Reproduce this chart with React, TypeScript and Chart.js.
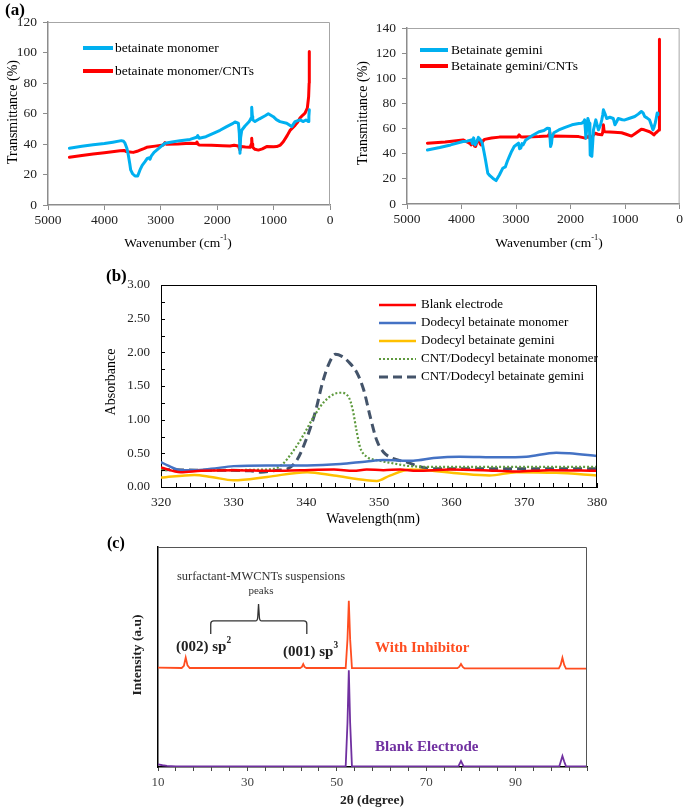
import React, { useEffect, useRef } from "react";
import { Chart, registerables } from "chart.js";
Chart.register(...registerables);

const SERIF = '"Liberation Serif", "Times New Roman", serif';

// ---------- Panel (a) left: betainate monomer FTIR ----------
const monoWn = [4620, 4400, 4200, 4000, 3850, 3700, 3660, 3635, 3600, 3576, 3550, 3534, 3500, 3457, 3410, 3369, 3330, 3280, 3240, 3200, 3191, 3170, 3120, 3073, 3000, 2926, 2800, 2660, 2482, 2364, 2345, 2320, 2200, 2069, 1950, 1832, 1720, 1684, 1650, 1624, 1608, 1596, 1585, 1565, 1507, 1432, 1400, 1388, 1376, 1370, 1330, 1250, 1150, 1094, 1005, 950, 887, 768, 679, 620, 532, 473, 426, 385, 375, 367];
const monoT = [37.2, 38.5, 39.5, 40.3, 41.2, 42.2, 41.8, 40.5, 37, 32.8, 27, 23, 20.5, 19, 19, 23, 26, 28.4, 30.5, 31, 30, 32, 34.5, 36, 38.3, 40.5, 41.3, 42.2, 43, 44.4, 45.5, 43.8, 44.8, 47, 49, 51.4, 53.5, 54.5, 54, 53.5, 47, 33.9, 44, 49, 51.8, 54.7, 57, 64.1, 58, 55.8, 54.7, 56.5, 58.5, 59.8, 57.9, 56, 54.7, 53.6, 51.4, 54.7, 55.8, 54.7, 55.8, 54.7, 58, 62.4];
const monoCntWn = [4620, 4400, 4200, 4000, 3723, 3650, 3610, 3550, 3488, 3420, 3369, 3300, 3250, 3100, 2956, 2926, 2900, 2700, 2482, 2380, 2360, 2340, 2320, 2100, 1900, 1773, 1700, 1625, 1596, 1580, 1500, 1418, 1395, 1388, 1380, 1370, 1330, 1270, 1200, 1123, 1000, 945, 880, 828, 760, 709, 620, 580, 532, 480, 443, 402, 379, 370, 367];
const monoCntT = [31.3, 32.5, 33.5, 34.3, 35.6, 35.8, 35, 34.8, 34.5, 35.2, 36, 37, 37.8, 38.6, 39.4, 40.9, 39.8, 40, 40.5, 40.3, 41.3, 39.8, 39.4, 39.2, 38.9, 38.7, 39.2, 38.7, 36, 38.3, 38, 37.8, 40, 43.7, 40, 37.8, 36.5, 36, 36.8, 38.3, 38.2, 38.3, 39.3, 41.5, 45.5, 48.9, 52.2, 54, 57, 59, 60.2, 63.5, 71, 80, 100.6];

// ---------- Panel (a) right: betainate gemini FTIR ----------
const gemWn = [4626, 4400, 4200, 3972, 3900, 3820, 3800, 3778, 3750, 3717, 3690, 3670, 3640, 3620, 3590, 3560, 3518, 3480, 3427, 3366, 3306, 3245, 3197, 3160, 3124, 3080, 3034, 2955, 2935, 2913, 2890, 2870, 2822, 2700, 2579, 2489, 2428, 2386, 2367, 2350, 2337, 2307, 2216, 2100, 1974, 1850, 1792, 1760, 1743, 1730, 1719, 1700, 1683, 1658, 1645, 1640, 1610, 1595, 1580, 1537, 1489, 1450, 1428, 1410, 1398, 1370, 1338, 1280, 1216, 1186, 1160, 1126, 1050, 1005, 930, 823, 760, 702, 670, 641, 600, 551, 520, 490, 470, 448, 430, 411, 400];
const gemT = [43, 45, 47, 49.7, 50, 51, 48, 52.6, 47, 49.7, 53, 52, 50, 48.4, 42, 35, 24.5, 22.5, 20.5, 18.6, 23.1, 28.4, 29.5, 34, 37.7, 42, 45.7, 48.4, 44, 44.4, 48, 47, 51, 54.5, 57.5, 58.4, 60.3, 60, 45.7, 48, 53.6, 56.7, 58.9, 61, 63, 64, 64.3, 65.5, 66.9, 60, 52.4, 62, 68, 64.3, 50, 39, 38, 48, 59, 66.9, 59, 63, 66.9, 71, 74.9, 72, 68, 69, 68, 63, 65, 68, 67, 66.9, 68, 69.6, 71.5, 73.6, 72.5, 69.6, 68.5, 66.9, 63, 59, 61, 64.3, 68, 72.3, 71];
const gemCntWn = [4626, 4300, 3972, 3930, 3881, 3840, 3820, 3800, 3778, 3760, 3742, 3720, 3700, 3681, 3660, 3639, 3610, 3578, 3450, 3306, 3100, 2973, 2943, 2915, 2883, 2700, 2579, 2420, 2397, 2380, 2367, 2350, 2337, 2100, 1852, 1731, 1700, 1671, 1640, 1610, 1580, 1549, 1500, 1428, 1410, 1398, 1385, 1368, 1200, 1065, 980, 883, 800, 702, 650, 551, 500, 472, 440, 411, 375, 370];
const gemCntT = [48.4, 49.3, 51, 50, 49, 48, 47, 50, 49.7, 46, 45.7, 49, 51, 51, 48, 47, 50, 51.4, 52.5, 53.2, 53.2, 53.2, 55, 53.5, 53.2, 53.5, 53.6, 54, 55, 57, 50.5, 52, 54, 53.8, 53.6, 52.4, 53, 54, 52, 53, 55, 56.3, 55.5, 55, 57, 63, 58, 57.5, 57, 56.7, 55.5, 54, 56.5, 59.5, 59, 57.5, 56, 55, 56.5, 57.5, 58.9, 131];

// ---------- Panel (b): UV-Vis absorbance ----------
const blankNm = [320, 322.7, 325.5, 330, 335.5, 339.2, 343.8, 346.5, 348.3, 350.6, 352.9, 355.2, 359.8, 364.3, 368.9, 373.5, 380];
const blankAbs = [0.29, 0.22, 0.24, 0.25, 0.24, 0.25, 0.26, 0.24, 0.26, 0.25, 0.26, 0.24, 0.26, 0.25, 0.23, 0.25, 0.24];
const monoNm = [320, 320.9, 322.7, 324.6, 326.9, 330, 334.6, 340.1, 344.7, 348.3, 350.6, 354.7, 357.5, 361.1, 366.6, 370.3, 374.4, 376.2, 380];
const monoAbs = [0.37, 0.32, 0.25, 0.25, 0.27, 0.31, 0.32, 0.32, 0.34, 0.38, 0.4, 0.39, 0.43, 0.45, 0.44, 0.45, 0.51, 0.5, 0.46];
const gemNm = [320, 324.6, 326.9, 330, 334.6, 340.1, 343.8, 348.3, 349.7, 351.5, 354.3, 356.6, 361.1, 365.2, 368.9, 374.4, 380];
const gemAbs = [0.14, 0.18, 0.15, 0.1, 0.15, 0.22, 0.17, 0.1, 0.09, 0.17, 0.26, 0.25, 0.2, 0.17, 0.22, 0.21, 0.17];
const cntMonoNm = [320, 325.5, 334.6, 336.5, 338.3, 339.7, 341, 342.4, 343.8, 344.7, 345.8, 346.4, 346.9, 347.4, 348.3, 349.7, 351.5, 354.3, 357.5, 380];
const cntMonoAbs = [0.25, 0.25, 0.26, 0.32, 0.55, 0.79, 1.04, 1.26, 1.38, 1.4, 1.34, 1.14, 0.84, 0.59, 0.45, 0.4, 0.36, 0.31, 0.3, 0.3];
const cntGemNm = [320, 325.5, 332.3, 333.7, 336, 337.4, 338.7, 340.1, 341.3, 342.2, 343.1, 344, 344.9, 345.8, 347, 347.9, 348.8, 349.7, 350.6, 352, 353.8, 355.6, 357.5, 380];
const cntGemAbs = [0.26, 0.25, 0.24, 0.22, 0.25, 0.27, 0.4, 0.74, 1.14, 1.54, 1.83, 1.97, 1.94, 1.86, 1.69, 1.44, 1.04, 0.69, 0.52, 0.42, 0.37, 0.3, 0.27, 0.27];
const uvLabels = ["Blank electrode", "Dodecyl betainate monomer", "Dodecyl betainate gemini", "CNT/Dodecyl betainate monomer", "CNT/Dodecyl betainate gemini"];

// ---------- Panel (c): XRD ----------
const inhDeg = [10, 15.3, 15.8, 16.2, 16.6, 17.1, 41.8, 42.2, 42.5, 42.8, 43.2, 52.0, 52.4, 52.7, 53.0, 53.4, 77.0, 77.4, 77.8, 78.2, 78.6, 99.7, 100.1, 100.5, 100.9, 101.3, 106];
const inhInt = [45.2, 45.0, 46.0, 49.7, 46.2, 45.0, 45.0, 45.5, 46.8, 45.5, 45.0, 45.0, 58, 75.6, 58, 45.0, 44.9, 45.5, 46.8, 45.5, 44.8, 44.8, 46.4, 49.7, 46.4, 44.7, 44.7];
const blkDeg = [10, 11, 12, 14, 52.0, 52.4, 52.7, 53.0, 53.4, 77.2, 77.8, 78.4, 99.8, 100.2, 100.5, 100.9, 101.3, 106];
const blkInt = [1.2, 0.8, 0.5, 0.3, 0.3, 20, 44, 20, 0.3, 0.3, 2.7, 0.3, 0.3, 3.0, 5.0, 2.5, 0.3, 0.3];
const braceDeg = [21.8, 32.5, 43.3];
const braceInt = [60.5, 66.4, 74.1];

const pts = (xs: number[], ys: number[]) => xs.map((x, i) => ({ x, y: ys[i] }));

type Part = { t: string; sup?: boolean };
type Txt = { x: number; y: number; parts: Part[]; size: number; bold?: boolean; color?: string; align?: "left" | "center" | "right"; rot?: number };
type Leg = { x1: number; x2: number; tx: number; y: number; color: string; width: number; dash?: number[]; label: string; size: number };
type Marks = { axis: "x" | "y"; values: number[]; len: number; color: string };
type Deco = { frame?: { color: string; width: number }; texts?: Txt[]; legend?: Leg[]; marks?: Marks[]; brace?: { xs: number[]; ys: number[]; color: string } };

function drawTxt(ctx: CanvasRenderingContext2D, it: Txt) {
  const w = it.bold ? "bold " : "";
  const supSize = it.size * 0.62;
  const widths = it.parts.map((p) => {
    ctx.font = `${w}${p.sup ? supSize : it.size}px ${SERIF}`;
    return ctx.measureText(p.t).width;
  });
  const total = widths.reduce((a, b) => a + b, 0);
  ctx.save();
  ctx.translate(it.x, it.y);
  if (it.rot) ctx.rotate(it.rot);
  let x = it.align === "center" ? -total / 2 : it.align === "right" ? -total : 0;
  ctx.fillStyle = it.color || "#000";
  ctx.textBaseline = "middle";
  ctx.textAlign = "left";
  it.parts.forEach((p, i) => {
    ctx.font = `${w}${p.sup ? supSize : it.size}px ${SERIF}`;
    ctx.fillText(p.t, x, p.sup ? -it.size * 0.4 : 0);
    x += widths[i];
  });
  ctx.restore();
}

function deco(cfg: Deco) {
  return {
    id: "deco",
    afterDraw(chart: any) {
      const ctx = chart.ctx as CanvasRenderingContext2D;
      const a = chart.chartArea;
      ctx.save();
      if (cfg.frame) {
        ctx.strokeStyle = cfg.frame.color;
        ctx.lineWidth = cfg.frame.width;
        ctx.beginPath();
        ctx.moveTo(a.left, a.top + 0.5);
        ctx.lineTo(a.right - 0.5, a.top + 0.5);
        ctx.lineTo(a.right - 0.5, a.bottom);
        ctx.stroke();
      }
      (cfg.marks || []).forEach((m) => {
        const sc = chart.scales[m.axis];
        ctx.strokeStyle = m.color;
        ctx.lineWidth = 1;
        ctx.beginPath();
        m.values.forEach((v) => {
          const p = Math.round(sc.getPixelForValue(v)) + 0.5;
          if (m.axis === "x") {
            ctx.moveTo(p, a.bottom);
            ctx.lineTo(p, a.bottom - m.len);
          } else {
            ctx.moveTo(a.left, p);
            ctx.lineTo(a.left + m.len, p);
          }
        });
        ctx.stroke();
      });
      if (cfg.brace) {
        const sx = chart.scales.x, sy = chart.scales.y;
        const [x0, xc, x1] = cfg.brace.xs.map((v) => sx.getPixelForValue(v));
        const [yl, ym, yt] = cfg.brace.ys.map((v) => sy.getPixelForValue(v));
        ctx.strokeStyle = cfg.brace.color;
        ctx.lineWidth = 1.3;
        ctx.beginPath();
        ctx.moveTo(x0, yl);
        ctx.lineTo(x0, ym + 3);
        ctx.quadraticCurveTo(x0, ym, x0 + 3, ym);
        ctx.lineTo(xc - 3, ym);
        ctx.quadraticCurveTo(xc - 1, ym, xc - 0.8, ym - 4);
        ctx.lineTo(xc, yt);
        ctx.lineTo(xc + 0.8, ym - 4);
        ctx.quadraticCurveTo(xc + 1, ym, xc + 3, ym);
        ctx.lineTo(x1 - 3, ym);
        ctx.quadraticCurveTo(x1, ym, x1, ym + 3);
        ctx.lineTo(x1, yl);
        ctx.stroke();
      }
      (cfg.legend || []).forEach((l) => {
        ctx.save();
        ctx.strokeStyle = l.color;
        ctx.lineWidth = l.width;
        ctx.setLineDash(l.dash || []);
        ctx.beginPath();
        ctx.moveTo(l.x1, l.y);
        ctx.lineTo(l.x2, l.y);
        ctx.stroke();
        ctx.restore();
        drawTxt(ctx, { x: l.tx, y: l.y, parts: [{ t: l.label }], size: l.size, color: "#000" });
      });
      (cfg.texts || []).forEach((t) => drawTxt(ctx, t));
      ctx.restore();
    },
  };
}

function ChartBox(props: { left: number; top: number; width: number; height: number; make: () => any }) {
  const ref = useRef<HTMLCanvasElement>(null);
  useEffect(() => {
    const c = new Chart(ref.current as HTMLCanvasElement, props.make());
    return () => c.destroy();
  }, []);
  return (
    <canvas
      ref={ref}
      width={props.width}
      height={props.height}
      style={{ position: "absolute", left: props.left, top: props.top, width: props.width, height: props.height }}
    />
  );
}

const GRAY = "#8c8c8c";

function ftirConfig(opts: {
  series: { data: { x: number; y: number }[]; color: string; label: string }[];
  yMax: number; padTop: number; padRight: number; yWidth: number; xHeight: number; deco: Deco;
}) {
  return {
    type: "line",
    data: {
      datasets: opts.series.map((s) => ({
        label: s.label, data: s.data, borderColor: s.color, backgroundColor: s.color,
        borderWidth: 3, pointRadius: 0, tension: 0, borderJoinStyle: "round", borderCapStyle: "round",
      })),
    },
    options: {
      animation: false, responsive: false, devicePixelRatio: 1,
      layout: { padding: { left: 0, top: opts.padTop, right: opts.padRight, bottom: 0 } },
      plugins: { legend: { display: false }, tooltip: { enabled: false } },
      scales: {
        x: {
          type: "linear", reverse: true, min: 0, max: 5000,
          afterFit: (s: any) => { s.height = opts.xHeight; },
          ticks: { stepSize: 1000, autoSkip: false, maxRotation: 0, padding: 2, color: "#222", font: { family: SERIF, size: 13.5 }, callback: (v: any) => String(v) },
          grid: { display: true, drawOnChartArea: false, drawTicks: true, tickLength: 5, color: GRAY },
          border: { display: true, color: GRAY, width: 1.5 },
        },
        y: {
          type: "linear", min: 0, max: opts.yMax,
          afterFit: (s: any) => { s.width = opts.yWidth; },
          ticks: { stepSize: 20, padding: 6, color: "#222", font: { family: SERIF, size: 13.5 }, callback: (v: any) => String(v) },
          grid: { display: true, drawOnChartArea: false, drawTicks: true, tickLength: 5, color: GRAY },
          border: { display: true, color: GRAY, width: 1.5 },
        },
      },
    },
    plugins: [deco(opts.deco)],
  };
}

const BLUE = "#00B0F0";
const RED = "#FF0000";

function makeA1() {
  return ftirConfig({
    series: [
      { data: pts(monoWn, monoT), color: BLUE, label: "betainate monomer" },
      { data: pts(monoCntWn, monoCntT), color: RED, label: "betainate monomer/CNTs" },
    ],
    yMax: 120, padTop: 22, padRight: 12, yWidth: 48, xHeight: 50,
    deco: {
      frame: { color: "#a6a6a6", width: 1 },
      legend: [
        { x1: 83, x2: 113, tx: 115, y: 48, color: BLUE, width: 4, label: "betainate monomer", size: 13.5 },
        { x1: 83, x2: 113, tx: 115, y: 71, color: RED, width: 4, label: "betainate monomer/CNTs", size: 13.5 },
      ],
      texts: [
        { x: 5, y: 11, parts: [{ t: "(a)" }], size: 17, bold: true },
        { x: 13, y: 112, parts: [{ t: "Transmittance (%)" }], size: 14, align: "center", rot: -Math.PI / 2 },
        { x: 178, y: 243, parts: [{ t: "Wavenumber (cm" }, { t: "-1", sup: true }, { t: ")" }], size: 13.5, align: "center" },
      ],
    },
  });
}

function makeA2() {
  return ftirConfig({
    series: [
      { data: pts(gemWn, gemT), color: BLUE, label: "Betainate gemini" },
      { data: pts(gemCntWn, gemCntT), color: RED, label: "Betainate gemini/CNTs" },
    ],
    yMax: 140, padTop: 28, padRight: 3, yWidth: 77, xHeight: 51,
    deco: {
      frame: { color: "#a6a6a6", width: 1 },
      legend: [
        { x1: 90, x2: 118, tx: 121, y: 50, color: BLUE, width: 4, label: "Betainate gemini", size: 13.5 },
        { x1: 90, x2: 118, tx: 121, y: 66, color: RED, width: 4, label: "Betainate gemini/CNTs", size: 13.5 },
      ],
      texts: [
        { x: 33, y: 113, parts: [{ t: "Transmittance (%)" }], size: 14, align: "center", rot: -Math.PI / 2 },
        { x: 219, y: 243, parts: [{ t: "Wavenumber (cm" }, { t: "-1", sup: true }, { t: ")" }], size: 13.5, align: "center" },
      ],
    },
  });
}

const UV_COLORS = ["#FF0000", "#4472C4", "#FFC000", "#5E9A3E", "#44546A"];
const UV_WIDTH = [2.5, 2.5, 2.5, 2.2, 3];
const UV_DASH: number[][] = [[], [], [], [2, 2], [9, 5]];

function makeB() {
  const series = [pts(blankNm, blankAbs), pts(monoNm, monoAbs), pts(gemNm, gemAbs), pts(cntMonoNm, cntMonoAbs), pts(cntGemNm, cntGemAbs)];
  const xMinor: number[] = [];
  for (let v = 320; v <= 380; v += 2) xMinor.push(v);
  const yMinor: number[] = [];
  for (let v = 0; v <= 3.001; v += 0.25) yMinor.push(v);
  const legY = [43, 61, 79, 97, 115];
  return {
    type: "line",
    data: {
      datasets: series.map((d, i) => ({
        label: uvLabels[i], data: d, borderColor: UV_COLORS[i], backgroundColor: UV_COLORS[i],
        borderWidth: UV_WIDTH[i], borderDash: UV_DASH[i], pointRadius: 0, cubicInterpolationMode: "monotone", tension: 0.4,
      })),
    },
    options: {
      animation: false, responsive: false, devicePixelRatio: 1,
      layout: { padding: { left: 0, top: 23, right: 88, bottom: 0 } },
      plugins: { legend: { display: false }, tooltip: { enabled: false } },
      scales: {
        x: {
          type: "linear", min: 320, max: 380,
          afterFit: (s: any) => { s.height = 43; },
          ticks: { stepSize: 10, autoSkip: false, maxRotation: 0, padding: 7, color: "#222", font: { family: SERIF, size: 13.5 }, callback: (v: any) => String(v) },
          grid: { display: false, drawTicks: false },
          border: { display: true, color: "#000", width: 1 },
        },
        y: {
          type: "linear", min: 0, max: 3,
          afterFit: (s: any) => { s.width = 161; },
          ticks: { stepSize: 0.5, padding: 11, color: "#222", font: { family: SERIF, size: 13 }, callback: (v: any) => Number(v).toFixed(2) },
          grid: { display: false, drawTicks: false },
          border: { display: true, color: "#000", width: 1 },
        },
      },
    },
    plugins: [deco({
      frame: { color: "#000", width: 1 },
      marks: [
        { axis: "x", values: xMinor, len: 4, color: "#000" },
        { axis: "y", values: yMinor, len: 4, color: "#000" },
      ],
      legend: uvLabels.map((l, i) => ({ x1: 379, x2: 416, tx: 421, y: legY[i], color: UV_COLORS[i], width: UV_WIDTH[i], dash: UV_DASH[i], label: l, size: 13 })),
      texts: [
        { x: 106, y: 15, parts: [{ t: "(b)" }], size: 17, bold: true },
        { x: 111, y: 120, parts: [{ t: "Absorbance" }], size: 14, align: "center", rot: -Math.PI / 2 },
        { x: 373, y: 257, parts: [{ t: "Wavelength(nm)" }], size: 14, align: "center" },
      ],
    })],
  };
}

const INH = "#FF4D20";
const PURPLE = "#7030A0";

function makeC() {
  return {
    type: "line",
    data: {
      datasets: [
        { label: "With Inhibitor", data: pts(inhDeg, inhInt), borderColor: INH, backgroundColor: INH, borderWidth: 1.8, pointRadius: 0, tension: 0 },
        { label: "Blank Electrode", data: pts(blkDeg, blkInt), borderColor: PURPLE, backgroundColor: PURPLE, borderWidth: 1.8, pointRadius: 0, tension: 0 },
      ],
    },
    options: {
      animation: false, responsive: false, devicePixelRatio: 1,
      layout: { padding: { left: 0, top: 17, right: 98, bottom: 0 } },
      plugins: { legend: { display: false }, tooltip: { enabled: false } },
      scales: {
        x: {
          type: "linear", min: 10, max: 106,
          afterFit: (s: any) => { s.height = 44; },
          ticks: { stepSize: 4, autoSkip: false, maxRotation: 0, padding: 4, color: "#444", font: { family: SERIF, size: 13 }, callback: (v: any) => ((Number(v) - 10) % 20 === 0 ? String(v) : "") },
          grid: { display: true, drawOnChartArea: false, drawTicks: true, tickLength: 4, color: "#444" },
          border: { display: true, color: "#000", width: 1.5 },
        },
        y: {
          type: "linear", min: 0, max: 100,
          afterFit: (s: any) => { s.width = 158; },
          ticks: { display: false },
          grid: { display: false, drawTicks: false },
          border: { display: true, color: "#000", width: 1.5 },
        },
      },
    },
    plugins: [deco({
      frame: { color: "#555", width: 1 },
      brace: { xs: braceDeg, ys: braceInt, color: "#333" },
      texts: [
        { x: 107, y: 14, parts: [{ t: "(c)" }], size: 16, bold: true },
        { x: 261, y: 47, parts: [{ t: "surfactant-MWCNTs suspensions" }], size: 12.5, align: "center", color: "#333" },
        { x: 261, y: 61, parts: [{ t: "peaks" }], size: 11, align: "center", color: "#333" },
        { x: 176, y: 117, parts: [{ t: "(002) sp" }, { t: "2", sup: true }], size: 15, bold: true, color: "#222" },
        { x: 283, y: 122, parts: [{ t: "(001) sp" }, { t: "3", sup: true }], size: 15, bold: true, color: "#222" },
        { x: 375, y: 118, parts: [{ t: "With Inhibitor" }], size: 15, bold: true, color: INH },
        { x: 375, y: 217, parts: [{ t: "Blank Electrode" }], size: 15, bold: true, color: PURPLE },
        { x: 138, y: 125, parts: [{ t: "Intensity (a.u)" }], size: 13.5, bold: true, align: "center", rot: -Math.PI / 2, color: "#222" },
        { x: 372, y: 271, parts: [{ t: "2θ (degree)" }], size: 13.5, bold: true, align: "center", color: "#222" },
      ],
    })],
  };
}

export default function App() {
  return (
    <div style={{ position: "absolute", left: 0, top: 0, width: 685, height: 811, background: "#fff", overflow: "hidden" }}>
      <ChartBox left={0} top={0} width={342} height={255} make={makeA1} />
      <ChartBox left={330} top={0} width={355} height={255} make={makeA2} />
      <ChartBox left={0} top={262} width={685} height={268} make={makeB} />
      <ChartBox left={0} top={530} width={685} height={281} make={makeC} />
    </div>
  );
}
